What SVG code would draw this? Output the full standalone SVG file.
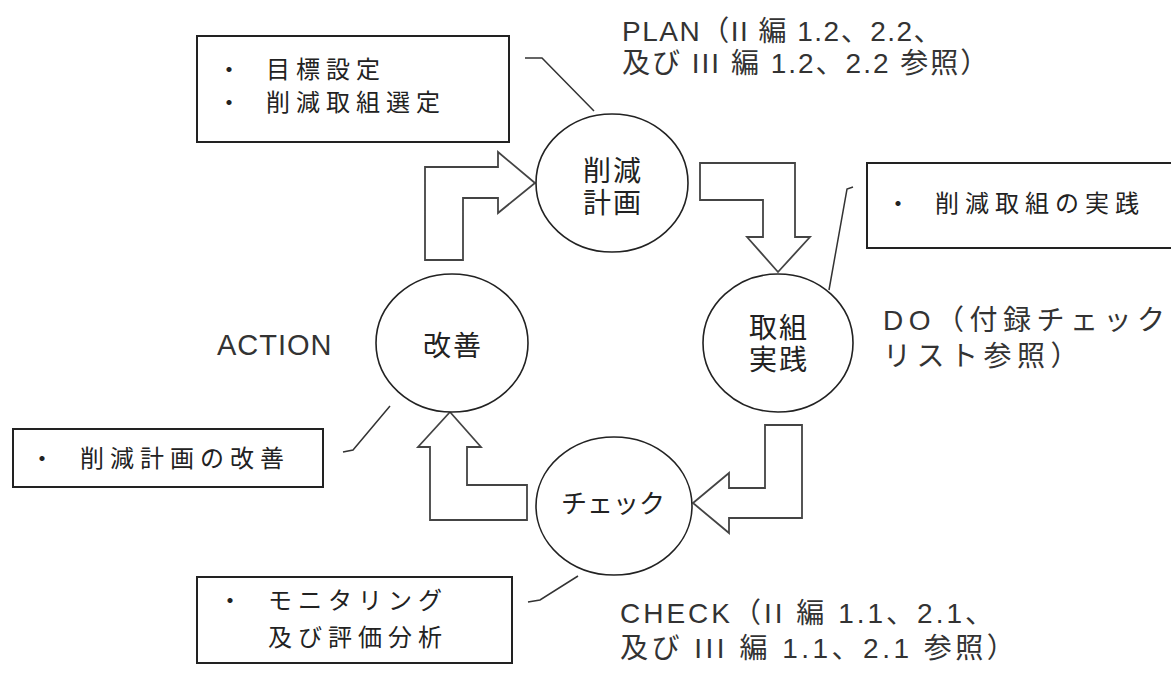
<svg xmlns="http://www.w3.org/2000/svg" width="1171" height="675" viewBox="0 0 1171 675">
<style>
.bg{fill:#fff}
.box{fill:#fff;stroke:#222;stroke-width:2}
.node{fill:#fff;stroke:#222;stroke-width:1.6}
.arrow{fill:#fff;stroke:#444;stroke-width:1.8;stroke-linejoin:miter}
.lead{fill:none;stroke:#333;stroke-width:1.5}
.bt{font-family:"Liberation Sans","Noto Sans CJK JP",sans-serif;font-size:24px;letter-spacing:6px;fill:#222}
.nt{font-family:"Liberation Sans","Noto Sans CJK JP",sans-serif;font-size:28px;letter-spacing:2px;fill:#222;text-anchor:middle}
.lt{font-family:"Liberation Sans","Noto Sans CJK JP",sans-serif;font-size:28px;letter-spacing:1.5px;fill:#333}
</style>
<rect class="bg" x="0" y="0" width="1171" height="675"/>

<g id="connectors">
  <polygon class="arrow" points="425,167 498,167 498,152 535,183 498,213 498,198 463,198 463,260 425,260"/>
  <polygon class="arrow" points="700,163 795,163 795,237 810,237 778,272 747,237 763,237 763,200 700,200"/>
  <polygon class="arrow" points="765,425 802,425 802,518 729,518 729,533 693,503 729,473 729,488 765,488"/>
  <polygon class="arrow" points="450,412 481,447 467,447 467,485 527,485 527,520 430,520 430,447 418,447"/>
  <polyline class="lead" points="525,58 542,58 594,111"/>
  <polyline class="lead" points="853,187 847,189 829,290"/>
  <polyline class="lead" points="343,452 353,450 390,406"/>
  <polyline class="lead" points="528,602 540,600 578,576"/>
</g>

<g id="node-plan">
  <ellipse class="node" cx="612" cy="183" rx="76" ry="69"/>
  <text class="nt" x="613" y="181">削減</text>
  <text class="nt" x="613" y="213">計画</text>
</g>
<g id="node-do">
  <ellipse class="node" cx="778" cy="343" rx="75" ry="69"/>
  <text class="nt" x="779" y="338">取組</text>
  <text class="nt" x="779" y="370">実践</text>
</g>
<g id="node-check">
  <ellipse class="node" cx="614" cy="506" rx="78" ry="69"/>
  <text class="nt" x="613" y="513" style="font-size:26px;letter-spacing:0">チェック</text>
</g>
<g id="node-action">
  <ellipse class="node" cx="452" cy="343" rx="76" ry="69"/>
  <text class="nt" x="453" y="356">改善</text>
</g>

<g id="box-plan">
  <rect class="box" x="197" y="36" width="312" height="106"/>
  <text class="bt" y="78"><tspan x="217">・</tspan><tspan x="266">目標設定</tspan></text>
  <text class="bt" y="111"><tspan x="217">・</tspan><tspan x="266">削減取組選定</tspan></text>
</g>
<g id="box-do">
  <rect class="box" x="867" y="163" width="310" height="85"/>
  <text class="bt" y="212"><tspan x="886">・</tspan><tspan x="935">削減取組の実践</tspan></text>
</g>
<g id="box-action">
  <rect class="box" x="13" y="429" width="310" height="58"/>
  <text class="bt" y="467"><tspan x="30">・</tspan><tspan x="80">削減計画の改善</tspan></text>
</g>
<g id="box-check">
  <rect class="box" x="197" y="577" width="315" height="86"/>
  <text class="bt" y="609"><tspan x="218">・</tspan><tspan x="268">モニタリング</tspan></text>
  <text class="bt" x="268" y="646">及び評価分析</text>
</g>

<g id="labels">
  <text class="lt" x="622" y="41">PLAN（II 編 1.2、2.2、</text>
  <text class="lt" x="622" y="73" style="letter-spacing:2px">及び III 編 1.2、2.2 参照）</text>
  <text class="lt" x="217" y="355" style="font-size:29px;letter-spacing:1px">ACTION</text>
  <text class="lt" x="883" y="330" style="letter-spacing:5.5px">DO（付録チェック</text>
  <text class="lt" x="883" y="366" style="letter-spacing:5.5px">リスト参照）</text>
  <text class="lt" x="620" y="623" style="letter-spacing:3px">CHECK（II 編 1.1、2.1、</text>
  <text class="lt" x="620" y="658" style="letter-spacing:3.5px">及び III 編 1.1、2.1 参照）</text>
</g>
</svg>
